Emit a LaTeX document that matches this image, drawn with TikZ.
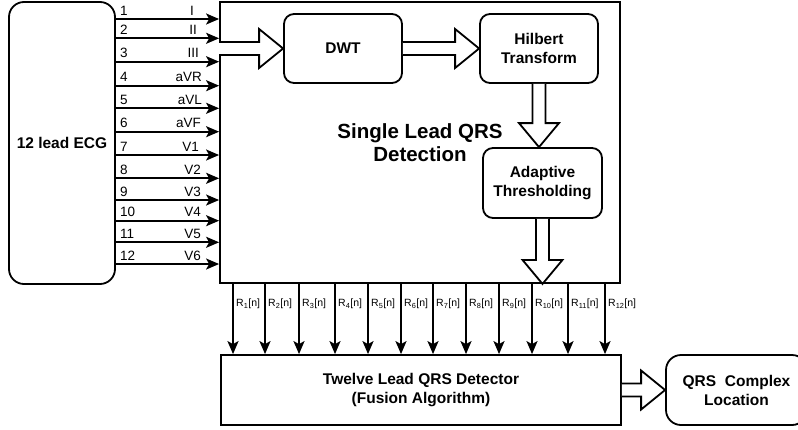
\documentclass[tikz,border=0pt]{standalone}
\usepackage{fontspec}
\setmainfont{Liberation Sans}
\usetikzlibrary{arrows.meta,calc}
\newcommand\blkH[2]{\draw[blk] ($(#1)+(0,-6.5)$) -- ($(#2)+(-24,-6.5)$) -- ($(#2)+(-24,-19.5)$) -- (#2) -- ($(#2)+(-24,19.5)$) -- ($(#2)+(-24,6.5)$) -- ($(#1)+(0,6.5)$);}
\newcommand\blkV[2]{\draw[blk] ($(#1)+(-6.5,0)$) -- ($(#2)+(-6.5,-24)$) -- ($(#2)+(-20,-24)$) -- (#2) -- ($(#2)+(20,-24)$) -- ($(#2)+(6.5,-24)$) -- ($(#1)+(6.5,0)$);}
\begin{document}
\begin{tikzpicture}[x=1pt,y=-1pt,
 box/.style={draw, line width=1.8pt, inner sep=0pt, align=center, font=\fontsize{15.5}{19}\selectfont\bfseries},
 rbox/.style={box, rounded corners=10pt},
 blk/.style={draw, line width=1.8pt, fill=white, line join=miter},
 sig/.style={line width=1.8pt, -{Stealth[length=13pt,width=11pt,inset=3pt]}},
 lbl/.style={inner sep=0pt, font=\fontsize{13.5}{15}\selectfont},
 rl/.style={inner sep=0pt, anchor=west, font=\fontsize{10.5}{12}\selectfont}]
\clip (0,0) rectangle (798,429);
\fill[white] (0,0) rectangle (798,429);

\node[box, rounded corners=15pt, minimum width=106pt, minimum height=282pt] (ecg) at (62,143) {12 lead ECG};
\node[box, minimum width=400pt, minimum height=281pt, font=\fontsize{20.5}{23.5}\selectfont\bfseries] (main) at (420,142.5) {Single Lead QRS\\Detection};
\node[rbox, minimum width=118pt, minimum height=69pt] (dwt) at (343,48.5) {DWT};
\node[rbox, minimum width=118pt, minimum height=69pt] (hil) at (539,48.5) {Hilbert\\Transform};
\node[rbox, minimum width=119pt, minimum height=70pt] (ada) at (542.5,183) {Adaptive\\Thresholding};
\node[box, minimum width=400pt, minimum height=70pt] (twl) at (421,390) {Twelve Lead QRS Detector\\(Fusion Algorithm)};
\node[box, rounded corners=15pt, minimum width=141pt, minimum height=70pt] (qrs) at (736.5,390) {QRS\ \ Complex\\Location};

\coordinate (in) at (main.west |- dwt.west);
\blkH{in}{dwt.west}
\blkH{dwt.east}{hil.west}
\coordinate (t1) at (hil.south |- ada.north);
\blkV{hil.south}{t1}
\coordinate (t2) at (ada.south |- main.south);
\blkV{ada.south}{t2}
\blkH{twl.east}{qrs.west}

\foreach \y/\n/\l/\lx [count=\i] in {19/1/I/194, 38.3/2/II/197, 61.7/3/III/199, 85.7/4/aVR/202, 108.3/5/aVL/202, 131.7/6/aVF/201, 155/7/V1/199, 178.3/8/V2/201, 200/9/V3/201, 220.7/10/V4/201, 242.3/11/V5/201, 264/12/V6/201} {
  \coordinate (l\i) at (0,\y);
  \draw[sig] (ecg.east |- l\i) -- (main.west |- l\i);
  \node[lbl, anchor=base west] (num\i) at (120,\y-4) {\n};
  \node[lbl, anchor=base east] (lead\i) at (\lx,\y-4) {\l};
}

\foreach \x [count=\i] in {233,265,299,335,368,401,433,466,499,532,568,605} {
  \coordinate (r\i) at (\x,0);
  \draw[sig] (r\i |- main.south) -- (r\i |- twl.north);
  \node[rl] (rl\i) at (\x+3,304) {R\textsubscript{\i}[n]};
}
\end{tikzpicture}
\end{document}
